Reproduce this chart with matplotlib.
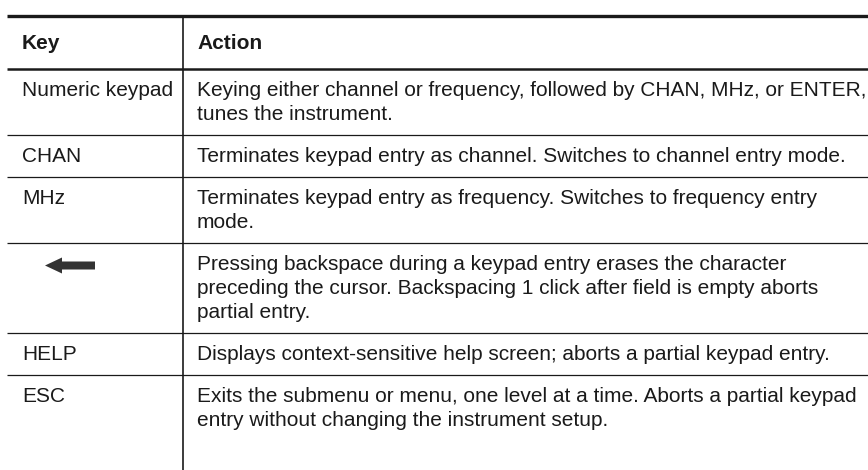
import matplotlib
matplotlib.use("Agg")
import matplotlib.pyplot as plt
from matplotlib.patches import FancyArrow

plt.rcParams['font.family'] = ['Liberation Sans', 'DejaVu Sans']

# table content
headers = ["Key", "Action"]
keys = ["Numeric keypad", "CHAN", "MHz", "", "HELP", "ESC"]
actions = [
    "Keying either channel or frequency, followed by CHAN, MHz, or ENTER,\ntunes the instrument.",
    "Terminates keypad entry as channel. Switches to channel entry mode.",
    "Terminates keypad entry as frequency. Switches to frequency entry\nmode.",
    "Pressing backspace during a keypad entry erases the character\npreceding the cursor. Backspacing 1 click after field is empty aborts\npartial entry.",
    "Displays context-sensitive help screen; aborts a partial keypad entry.",
    "Exits the submenu or menu, one level at a time. Aborts a partial keypad\nentry without changing the instrument setup.",
]
arrow_row = 3  # backspace key is drawn as an arrow

W, H = 868, 470
fig = plt.figure(figsize=(W / 100, H / 100), dpi=100)
ax = fig.add_axes([0, 0, 1, 1])
ax.set_xlim(0, W)
ax.set_ylim(H, 0)
ax.axis("off")

x0, xsep = 7, 183
top, head_h = 16, 53
line_h = 24
pad = 19.5
fs = 15.0
ink = "#1a1a1a"

# header
ax.plot([x0, W], [top, top], color=ink, lw=2.4, solid_capstyle="butt")
ax.text(x0 + 15, top + head_h / 2 + 1, headers[0], fontsize=fs, fontweight="bold",
        va="center", ha="left", color=ink)
ax.text(xsep + 14, top + head_h / 2 + 1, headers[1], fontsize=fs, fontweight="bold",
        va="center", ha="left", color=ink)
y = top + head_h
ax.plot([x0, W], [y, y], color=ink, lw=1.8, solid_capstyle="butt")

for i, (k, a) in enumerate(zip(keys, actions)):
    n = a.count("\n") + 1
    first = y + pad + 2
    if i == arrow_row:
        ax.add_patch(FancyArrow(95, first + 1, -50, 0, width=8, head_width=16,
                                head_length=17, length_includes_head=True,
                                color="#333333", lw=0))
    else:
        ax.text(x0 + 15, first, k, fontsize=fs, va="center", ha="left", color=ink)
    for j, ln in enumerate(a.split("\n")):
        ax.text(xsep + 14, first + j * line_h, ln, fontsize=fs, va="center",
                ha="left", color=ink)
    y = y + pad + 2 + (n - 1) * line_h + pad + 1
    if i < len(keys) - 1:
        ax.plot([x0, W], [y, y], color=ink, lw=0.9, solid_capstyle="butt")

ax.plot([xsep, xsep], [top, H], color=ink, lw=1.2)

fig.savefig("out.png", dpi=100, facecolor="white")
